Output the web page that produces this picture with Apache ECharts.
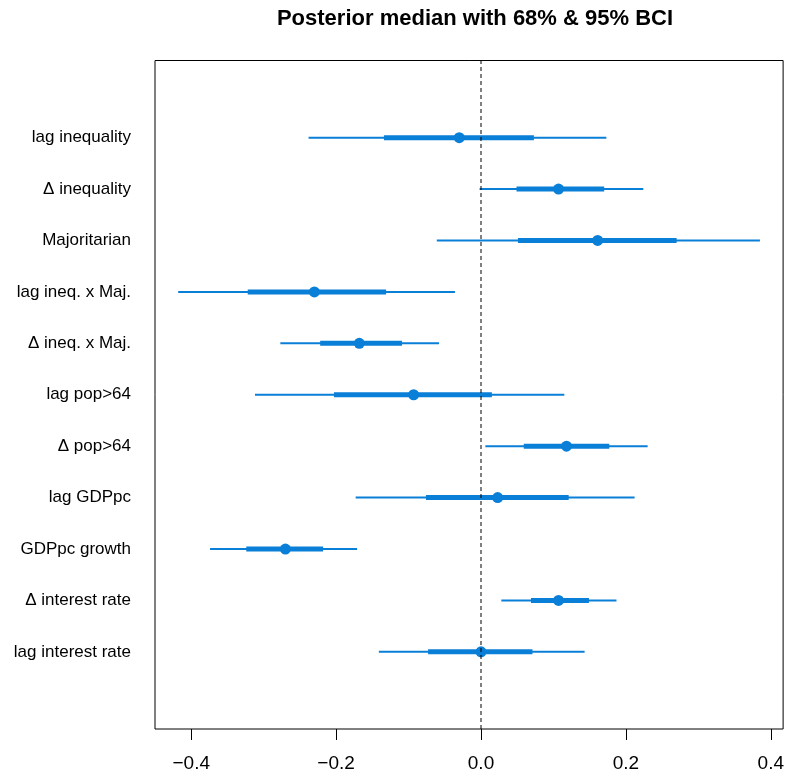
<!DOCTYPE html>
<html>
<head>
<meta charset="utf-8">
<script src="https://cdn.jsdelivr.net/npm/echarts@6/dist/echarts.min.js"></script>
<style>html,body{margin:0;padding:0;background:#fff;}#c{width:787px;height:775px;}</style>
</head>
<body>
<div id="c"></div>
<script>
// Categories, top to bottom
const categories = ['lag inequality','\u0394 inequality','Majoritarian','lag ineq. x Maj.','\u0394 ineq. x Maj.','lag pop>64','\u0394 pop>64','lag GDPpc','GDPpc growth','\u0394 interest rate','lag interest rate'];
const median = [-0.030, 0.107, 0.161, -0.230, -0.168, -0.093, 0.118, 0.023, -0.270, 0.107, 0.000];
const lo95 = [-0.238, -0.002, -0.061, -0.418, -0.277, -0.312, 0.006, -0.173, -0.374, 0.028, -0.141];
const hi95 = [0.173, 0.224, 0.385, -0.036, -0.058, 0.115, 0.230, 0.212, -0.171, 0.187, 0.143];
const lo68 = [-0.134, 0.049, 0.051, -0.322, -0.222, -0.203, 0.059, -0.076, -0.324, 0.069, -0.073];
const hi68 = [0.073, 0.170, 0.270, -0.131, -0.109, 0.015, 0.177, 0.121, -0.218, 0.149, 0.071];
const xTicks = [-0.4, -0.2, 0.0, 0.2, 0.4];
const titleText = 'Posterior median with 68% & 95% BCI';

const n = categories.length;
const rowPos = categories.map((c, i) => n - i);
const data = categories.map((c, i) => [rowPos[i], lo95[i], lo68[i], median[i], hi68[i], hi95[i]]);
const COL = '#0a7fd8';
const FONT = 'Liberation Sans, Arial, Helvetica, sans-serif';

const chart = echarts.init(document.getElementById('c'), null, {renderer: 'canvas'});
chart.setOption({
  animation: false,
  backgroundColor: '#fff',
  title: {
    text: titleText, left: 470, textAlign: 'center', top: 3,
    textStyle: {fontFamily: FONT, fontSize: 22, fontWeight: 'bold', color: '#000'}
  },
  grid: {left: 155, right: 3, top: 60.5, bottom: 46, show: true, borderColor: '#000', borderWidth: 1, backgroundColor: 'transparent'},
  xAxis: {
    type: 'value', min: -0.45, max: 0.417,
    axisLine: {show: false, onZero: false},
    splitLine: {show: false},
    axisTick: {show: true, customValues: xTicks, length: 11, lineStyle: {color: '#000', width: 1}},
    axisLabel: {
      customValues: xTicks, margin: 25, fontSize: 19, fontFamily: FONT, color: '#000',
      formatter: v => (v < 0 ? '\u2212' : '') + Math.abs(v).toFixed(1)
    }
  },
  yAxis: {
    type: 'value', min: -0.5, max: n + 1.5,
    axisLine: {show: false, onZero: false},
    splitLine: {show: false},
    axisTick: {show: false},
    axisLabel: {
      customValues: rowPos, margin: 24, fontSize: 17, fontFamily: FONT, color: '#000',
      formatter: v => categories[n - v] || ''
    }
  },
  series: [
    {
      type: 'custom',
      data: data,
      encode: {x: [1, 2, 3, 4, 5], y: 0},
      renderItem: function (params, api) {
        const y = api.value(0);
        const a = api.coord([api.value(1), y]);
        const b = api.coord([api.value(2), y]);
        const m = api.coord([api.value(3), y]);
        const c = api.coord([api.value(4), y]);
        const d = api.coord([api.value(5), y]);
        return {
          type: 'group',
          children: [
            {type: 'line', shape: {x1: a[0], y1: a[1], x2: d[0], y2: d[1]}, style: {stroke: COL, lineWidth: 2}},
            {type: 'line', shape: {x1: b[0], y1: b[1], x2: c[0], y2: c[1]}, style: {stroke: COL, lineWidth: 5}},
            {type: 'circle', shape: {cx: m[0], cy: m[1], r: 5.5}, style: {fill: COL}}
          ]
        };
      },
      z: 2
    },
    {
      type: 'line',
      data: [[0, -0.5], [0, n + 1.5]],
      symbol: 'none',
      lineStyle: {color: '#000', width: 1, type: [4, 3]},
      z: 3,
      silent: true
    }
  ]
});
</script>
</body>
</html>
